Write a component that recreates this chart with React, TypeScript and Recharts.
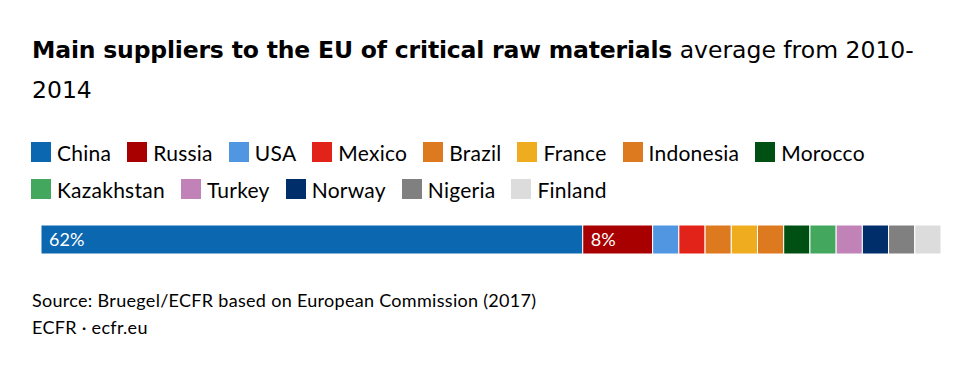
import React from "react";
import { BarChart, Bar, XAxis, YAxis, LabelList } from "recharts";

const countries = ["China", "Russia", "USA", "Mexico", "Brazil", "France", "Indonesia", "Morocco", "Kazakhstan", "Turkey", "Norway", "Nigeria", "Finland"];
const shares = [62, 8, 3, 3, 3, 3, 3, 3, 3, 3, 3, 3, 3];
const colors = ["#0b67b0", "#a80000", "#5096e0", "#e2231a", "#dd7a1f", "#eeac1e", "#dd7a1f", "#005013", "#43a75e", "#c183b7", "#002e6b", "#808080", "#dcdcdc"];
const labelled = ["China", "Russia"];

const row: Record<string, number | string> = { name: "EU" };
countries.forEach((c, i) => { row[c] = shares[i]; });
const data = [row];
const total = shares.reduce((a, b) => a + b, 0);

const FONT = "Lato, 'Open Sans', sans-serif";
const TITLE_FONT = "'DejaVu Sans', sans-serif";

export default function App() {
  return (
    <div style={{ position: "absolute", left: 0, top: 0, width: 972, height: 370, background: "#fff", fontFamily: FONT, color: "#000" }}>
      <div style={{ position: "absolute", left: 32, top: 30, width: 935, fontSize: 23.5, lineHeight: "40px", fontFamily: TITLE_FONT }}>
        <span style={{ fontWeight: 700, letterSpacing: -0.18 }}>Main suppliers to the EU of critical raw materials</span>
        <span style={{ fontWeight: 400, letterSpacing: 0 }}> average from 2010-</span>
        <br />
        <span>2014</span>
      </div>
      <div style={{ position: "absolute", left: 31, top: 141, width: 900, display: "flex", flexWrap: "wrap", rowGap: 15, columnGap: 16, fontSize: 21, letterSpacing: 0.25 }}>
        {countries.map((c, i) => (
          <div key={c} style={{ display: "flex", alignItems: "center", height: 22 }}>
            <div style={{ width: 20, height: 20, background: colors[i], marginRight: 6 }} />
            <span>{c}</span>
          </div>
        ))}
      </div>
      <div style={{ position: "absolute", left: 0, top: 220 }}>
        <BarChart width={972} height={40} data={data} layout="vertical" margin={{ top: 5, right: 31, bottom: 6, left: 41 }} barCategoryGap={0}>
          <XAxis type="number" domain={[0, total]} hide />
          <YAxis type="category" dataKey="name" hide />
          {countries.map((c, i) => (
            <Bar key={c} dataKey={c} stackId="a" fill={colors[i]} stroke="#fff" strokeWidth={1} isAnimationActive={false}>
              {labelled.includes(c) ? (
                <LabelList dataKey={c} position="insideLeft" offset={8} fill="#fff" fontSize={18} fontFamily={FONT} formatter={(v: any) => `${v}%`} />
              ) : null}
            </Bar>
          ))}
        </BarChart>
      </div>
      <div style={{ position: "absolute", left: 32, top: 287, fontSize: 18, letterSpacing: 0.3, lineHeight: "27px" }}>
        <div>Source: Bruegel/ECFR based on European Commission (2017)</div>
        <div>ECFR · ecfr.eu</div>
      </div>
    </div>
  );
}
